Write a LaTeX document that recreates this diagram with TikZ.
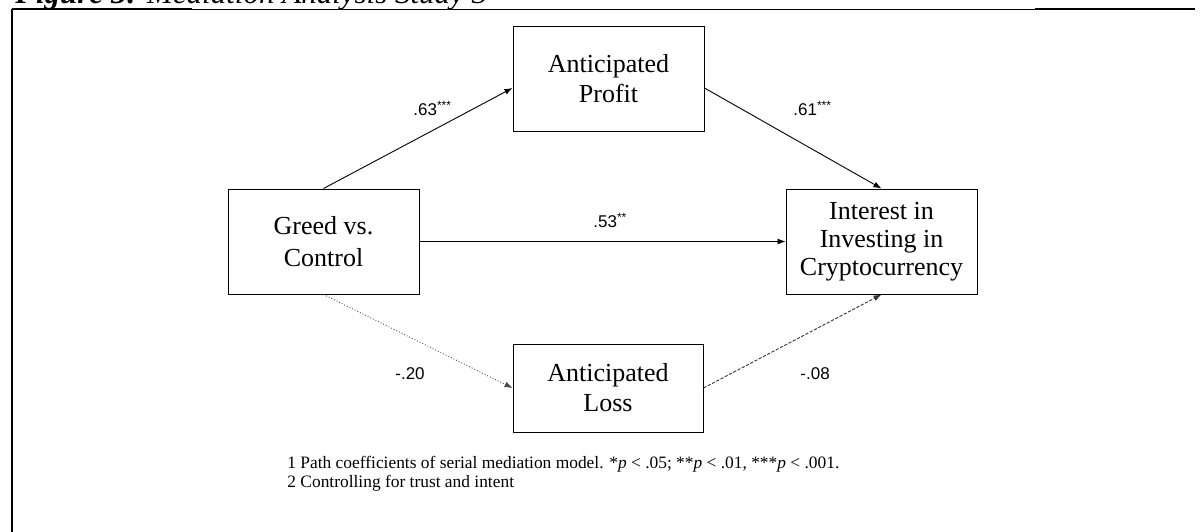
\documentclass[tikz,border=0pt]{standalone}
\usepackage{fontspec}
\setmainfont{Liberation Serif}
\newfontfamily\labfont{Liberation Sans}
\usetikzlibrary{arrows.meta}
\begin{document}
\begin{tikzpicture}[x=0.5pt,y=-0.5pt,
  box/.style={draw, line width=0.5pt, inner sep=0pt, align=center,
    minimum width=95.5pt, minimum height=52.5pt},
  conn/.style={line width=0.45pt, -{Latex[length=4pt,width=3pt]}},
  coef/.style={font=\labfont\fontsize{8.5}{10}\selectfont, inner sep=0pt, anchor=base west},
  note/.style={font=\fontsize{8.7}{10}\selectfont, inner sep=0pt, anchor=base west}]
\useasboundingbox (0,0) rectangle (1203,531);
% frame
\draw[line width=1pt] (12,8.5) -- (12,540);
\draw[line width=1pt] (11.5,9) -- (192,9);
\draw[line width=0.5pt] (192,9) -- (1035,9);
\draw[line width=1pt] (1035,9) -- (1195,9);
% title (cut off by the page edge)
\node[anchor=base west, inner sep=0pt, font=\fontsize{15.5}{18}\selectfont] (title) at (15,3)
  {\textbf{\textit{Figure 3:}} \textit{Mediation Analysis Study 3}};
% boxes
\node[box, font=\fontsize{13}{16}\selectfont] (greed) at (323.5,241.5) {Greed vs.\\Control};
\node[box, font=\fontsize{13}{15}\selectfont] (prof) at (608.5,78.5) {Anticipated\\Profit};
\node[box, font=\fontsize{13}{14}\selectfont] (int) at (881.5,241.5) {Interest in\\Investing in\\Cryptocurrency};
\node[box, font=\fontsize{13}{15}\selectfont, minimum width=95pt, minimum height=44pt] (loss) at (608,388) {Anticipated\\Loss};
% connectors
\draw[conn] (greed.north) -- ([yshift=-4.75pt]prof.west);
\draw[conn] ([yshift=-4.75pt]prof.east) -- (int.north);
\draw[conn] (greed.east) -- (int.west);
\draw[conn, densely dotted, draw=black!70] (greed.south) -- (loss.west);
\draw[conn, dash pattern=on 1.6pt off 0.8pt, draw=black!80] (loss.east) -- (int.south);
% coefficients
\node[coef] (c1) at (413,115) {.63\textsuperscript{***}};
\node[coef] (c2) at (793,115) {.61\textsuperscript{***}};
\node[coef] (c3) at (593,227) {.53\textsuperscript{**}};
\node[coef] (c4) at (395,379) {-.20};
\node[coef] (c5) at (800,379) {-.08};
% notes
\node[note] (n1) at (287,468) {1 Path coefficients of serial mediation model. *\textit{p} < .05; **\textit{p} < .01, ***\textit{p} < .001.};
\node[note] (n2) at (287,487) {2 Controlling for trust and intent};
\end{tikzpicture}
\end{document}
